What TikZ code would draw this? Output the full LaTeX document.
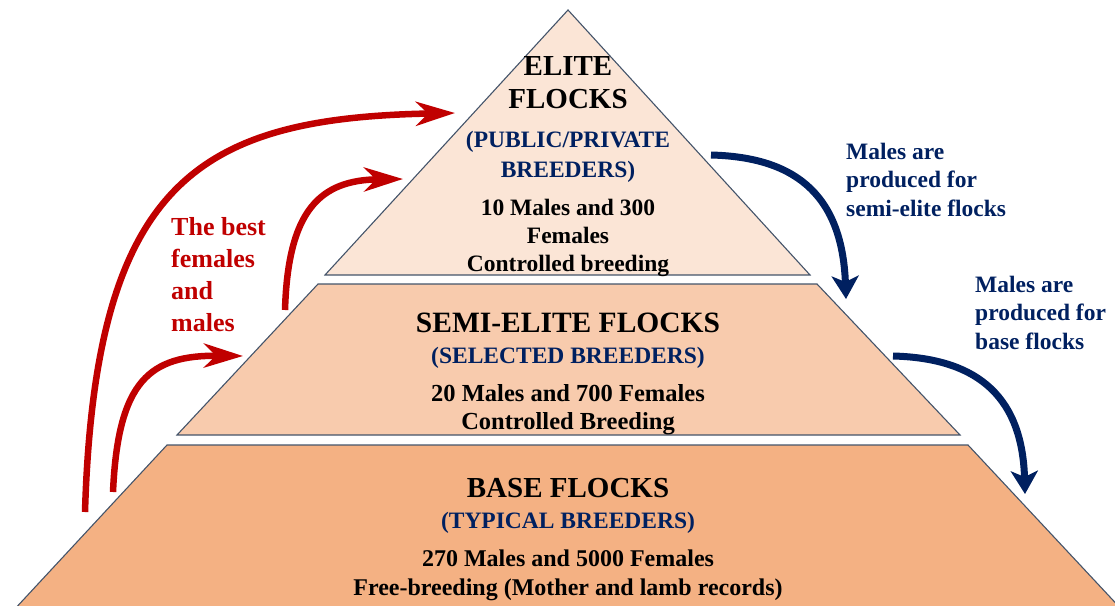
\documentclass[tikz,border=0pt]{standalone}
\usepackage{fontspec}
\setmainfont{Liberation Serif}
\usetikzlibrary{arrows.meta}

\definecolor{eliteclr}{HTML}{FBE5D6}
\definecolor{semiclr}{HTML}{F8CBAD}
\definecolor{baseclr}{HTML}{F4B183}
\definecolor{edgeclr}{HTML}{44546A}
\definecolor{upred}{HTML}{C00000}
\definecolor{downblue}{HTML}{002060}

\begin{document}
\begin{tikzpicture}[x=1pt,y=-1pt,
   layer/.style={draw=edgeclr,line width=1.1pt},
   txt/.style={inner sep=0pt,align=center,anchor=north,font=\bfseries},
   upline/.style={draw=upred,line width=6.5pt,-{Stealth[length=39pt,width=24pt,inset=12pt]}},
   downline/.style={draw=downblue,line width=7pt,-{Stealth[length=23pt,width=27pt,inset=6pt]}}]
   \useasboundingbox (0,0) rectangle (1115,605);

   % the three layers
   \filldraw[layer,fill=baseclr] (167,445) -- (968,445) -- (1124,612) -- (12,612) -- cycle;
   \filldraw[layer,fill=semiclr] (318,284) -- (817,284) -- (960,435) -- (177,435) -- cycle;
   \filldraw[layer,fill=eliteclr] (568,10) -- (810,275) -- (325,275) -- cycle;

   \node[txt,font=\fontsize{29}{33}\selectfont\bfseries] (elite) at (568,56.5) {ELITE\\FLOCKS};
   \node[txt,text=downblue,font=\fontsize{23.5}{30}\selectfont\bfseries] (eliteb) at (568,131) {(PUBLIC/PRIVATE\\BREEDERS)};
   \node[txt,font=\fontsize{23.5}{28}\selectfont\bfseries] (elitec) at (568,198.5) {10 Males and 300\\Females\\Controlled breeding};

   \node[txt,font=\fontsize{29.5}{32}\selectfont\bfseries] (semi) at (568,312.5) {SEMI-ELITE FLOCKS};
   \node[txt,text=downblue,font=\fontsize{23.5}{27}\selectfont\bfseries] (semib) at (568,346.5) {(SELECTED BREEDERS)};
   \node[txt,font=\fontsize{24.5}{28}\selectfont\bfseries] (semic) at (568,384.5) {20 Males and 700 Females\\Controlled Breeding};

   \node[txt,font=\fontsize{29}{33}\selectfont\bfseries] (base) at (568,478.5) {BASE FLOCKS};
   \node[txt,text=downblue,font=\fontsize{23.5}{27}\selectfont\bfseries] (baseb) at (568,511.5) {(TYPICAL BREEDERS)};
   \node[txt,font=\fontsize{24}{29}\selectfont\bfseries] (basec) at (568,549.5) {270 Males and 5000 Females\\Free-breeding (Mother and lamb records)};

   \node[txt,anchor=north west,align=left,text=upred,font=\fontsize{26}{32}\selectfont\bfseries] (best) at (171,217.5) {The best\\females\\and\\males};
   \node[txt,anchor=north west,align=left,text=downblue,font=\fontsize{23.5}{28.5}\selectfont\bfseries] (tosemi) at (846,142.5) {Males are\\produced for\\semi-elite flocks};
   \node[txt,anchor=north west,align=left,text=downblue,font=\fontsize{23.5}{28.5}\selectfont\bfseries] (tobase) at (975,275.5) {Males are\\produced for\\base flocks};

   % arrow ends
   \coordinate (up1s) at (85,512);
   \coordinate (up1e) at (455,113);
   \coordinate (up2s) at (113,492);
   \coordinate (up2e) at (243,356);
   \coordinate (up3s) at (285,310);
   \coordinate (up3e) at (403,179);
   \coordinate (dn1s) at (711,155);
   \coordinate (dn1e) at (846,299);
   \coordinate (dn2s) at (893,356);
   \coordinate (dn2e) at (1025,494);

   \draw[upline] (up1s) .. controls (95,180) and (200,118) .. (up1e);
   \draw[upline] (up2s) .. controls (118,380) and (150,355) .. (up2e);
   \draw[upline] (up3s) .. controls (288,210) and (320,180) .. (up3e);
   \draw[downline] (dn1s) .. controls (790,157) and (842,190) .. (dn1e);
   \draw[downline] (dn2s) .. controls (970,358) and (1022,390) .. (dn2e);
\end{tikzpicture}
\end{document}
